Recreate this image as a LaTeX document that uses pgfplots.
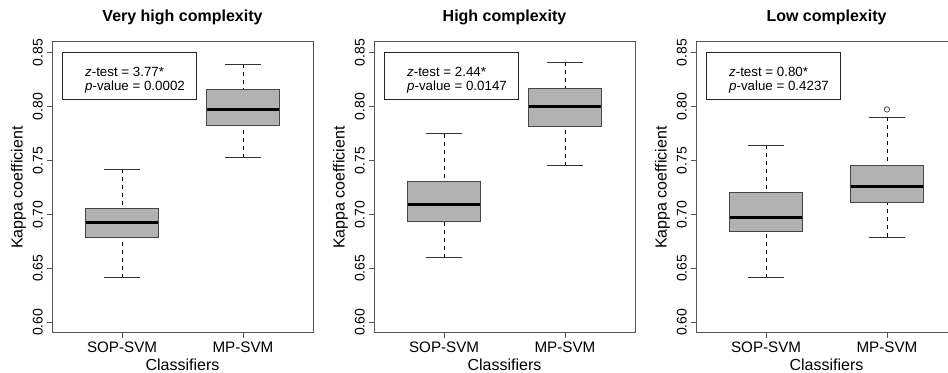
\documentclass[border=0pt]{standalone}
\usepackage{pgfplots}
\pgfplotsset{compat=1.18}
\usepgfplotslibrary{statistics}
\usepackage{fontspec}
\setmainfont{Liberation Sans}

\definecolor{boxfill}{RGB}{178,178,178}
\definecolor{boxline}{RGB}{70,70,70}
\definecolor{framec}{RGB}{85,85,85}

\tikzset{annot/.style={anchor=base west, inner sep=0pt, font=\fontsize{10}{12}\selectfont}}

\pgfplotsset{
  panel/.style={
    scale only axis, width=195.75pt, height=218.25pt,
    xmin=0.42, xmax=2.58, ymin=0.59, ymax=0.86,
    xtick={1,2}, xticklabels={SOP-SVM,MP-SVM},
    ytick={0.60,0.65,0.70,0.75,0.80,0.85},
    tick pos=left, tick align=outside, major tick length=3.75pt,
    axis line style={framec, line width=0.75pt},
    every tick/.style={framec, line width=0.6pt},
    /pgf/number format/assume math mode=true,
    yticklabel={\pgfmathprintnumber[fixed, fixed zerofill, precision=2, assume math mode=true]{\tick}},
    yticklabel style={rotate=90, anchor=south, inner sep=0pt, font=\fontsize{10.5}{12}\selectfont},
    yticklabel shift=3pt,
    xticklabel style={anchor=north, inner sep=0pt, font=\fontsize{11.4}{13}\selectfont},
    xticklabel shift=2.6pt,
    title style={at={(0.5,1)}, anchor=base, yshift=9.4pt, font=\bfseries\fontsize{12}{14}\selectfont},
    xlabel={Classifiers},
    xlabel style={at={(axis description cs:0.5,0)}, anchor=base, yshift=-28.5pt, font=\fontsize{12}{14}\selectfont},
    ylabel={Kappa coefficient},
    ylabel style={at={(axis description cs:-0.128,0.5)}, anchor=center, font=\fontsize{12}{14}\selectfont},
    boxplot/draw direction=y,
    boxplot/box extend=0.6,
    boxplot/whisker extend=0.3,
    boxplot/every box/.style={draw=boxline, fill=boxfill, line width=0.75pt},
    boxplot/every median/.style={black, line width=2.25pt},
    boxplot/draw/lower whisker/.code={%
      \draw[black, line width=0.6pt, dash pattern=on 3pt off 3pt]
        (boxplot box cs:\pgfplotsboxplotvalue{lower whisker},0.5) --
        (boxplot box cs:\pgfplotsboxplotvalue{lower quartile},0.5);
      \draw[black!80, line width=0.75pt]
        (boxplot whisker cs:\pgfplotsboxplotvalue{lower whisker},0) --
        (boxplot whisker cs:\pgfplotsboxplotvalue{lower whisker},1);
    },
    boxplot/draw/upper whisker/.code={%
      \draw[black, line width=0.6pt, dash pattern=on 3pt off 3pt]
        (boxplot box cs:\pgfplotsboxplotvalue{upper whisker},0.5) --
        (boxplot box cs:\pgfplotsboxplotvalue{upper quartile},0.5);
      \draw[black!80, line width=0.75pt]
        (boxplot whisker cs:\pgfplotsboxplotvalue{upper whisker},0) --
        (boxplot whisker cs:\pgfplotsboxplotvalue{upper whisker},1);
    },
  },
}

\begin{document}
\begin{tikzpicture}
% ---------- Panel 1 ----------
\begin{axis}[panel, at={(39pt,30pt)}, anchor=south west, title={Very high complexity}]
\addplot[boxplot prepared={lower whisker=0.6411, lower quartile=0.6787, median=0.6925,
  upper quartile=0.7052, upper whisker=0.7421, draw position=1}] coordinates {};
\addplot[boxplot prepared={lower whisker=0.7528, lower quartile=0.7829, median=0.7974,
  upper quartile=0.8155, upper whisker=0.8395, draw position=2}] coordinates {};
\draw[black!85, line width=0.6pt] (axis description cs:0.04,0.803) rectangle (axis description cs:0.552,0.965);
\node[annot] at (axis description cs:0.126,0.883) {\textit{z}-test = 3.77*};
\node[annot] at (axis description cs:0.126,0.835) {\textit{p}-value = 0.0002};
\end{axis}
% ---------- Panel 2 ----------
\begin{axis}[panel, at={(280.5pt,30pt)}, anchor=south west, title={High complexity}]
\addplot[boxplot prepared={lower whisker=0.6596, lower quartile=0.6937, median=0.7094,
  upper quartile=0.7301, upper whisker=0.7749, draw position=1}] coordinates {};
\addplot[boxplot prepared={lower whisker=0.7451, lower quartile=0.7820, median=0.8005,
  upper quartile=0.8168, upper whisker=0.8413, draw position=2}] coordinates {};
\draw[black!85, line width=0.6pt] (axis description cs:0.04,0.803) rectangle (axis description cs:0.552,0.965);
\node[annot] at (axis description cs:0.126,0.883) {\textit{z}-test = 2.44*};
\node[annot] at (axis description cs:0.126,0.835) {\textit{p}-value = 0.0147};
\end{axis}
% ---------- Panel 3 ----------
\begin{axis}[panel, at={(522pt,30pt)}, anchor=south west, title={Low complexity}]
\addplot[boxplot prepared={lower whisker=0.6411, lower quartile=0.6840, median=0.6971,
  upper quartile=0.7205, upper whisker=0.7642, draw position=1}] coordinates {};
\addplot[boxplot prepared={lower whisker=0.6787, lower quartile=0.7110, median=0.7257,
  upper quartile=0.7451, upper whisker=0.7903, draw position=2},
  mark=o, mark size=2pt, mark options={draw=black!70, line width=0.6pt, fill=none}]
  table[row sep=\\, y index=0] {d\\ 0.7974\\};
\draw[black!85, line width=0.6pt] (axis description cs:0.04,0.803) rectangle (axis description cs:0.552,0.965);
\node[annot] at (axis description cs:0.126,0.883) {\textit{z}-test = 0.80*};
\node[annot] at (axis description cs:0.126,0.835) {\textit{p}-value = 0.4237};
\end{axis}
\pgfresetboundingbox
\useasboundingbox (0,0) rectangle (711pt,279.75pt);
\end{tikzpicture}
\end{document}
